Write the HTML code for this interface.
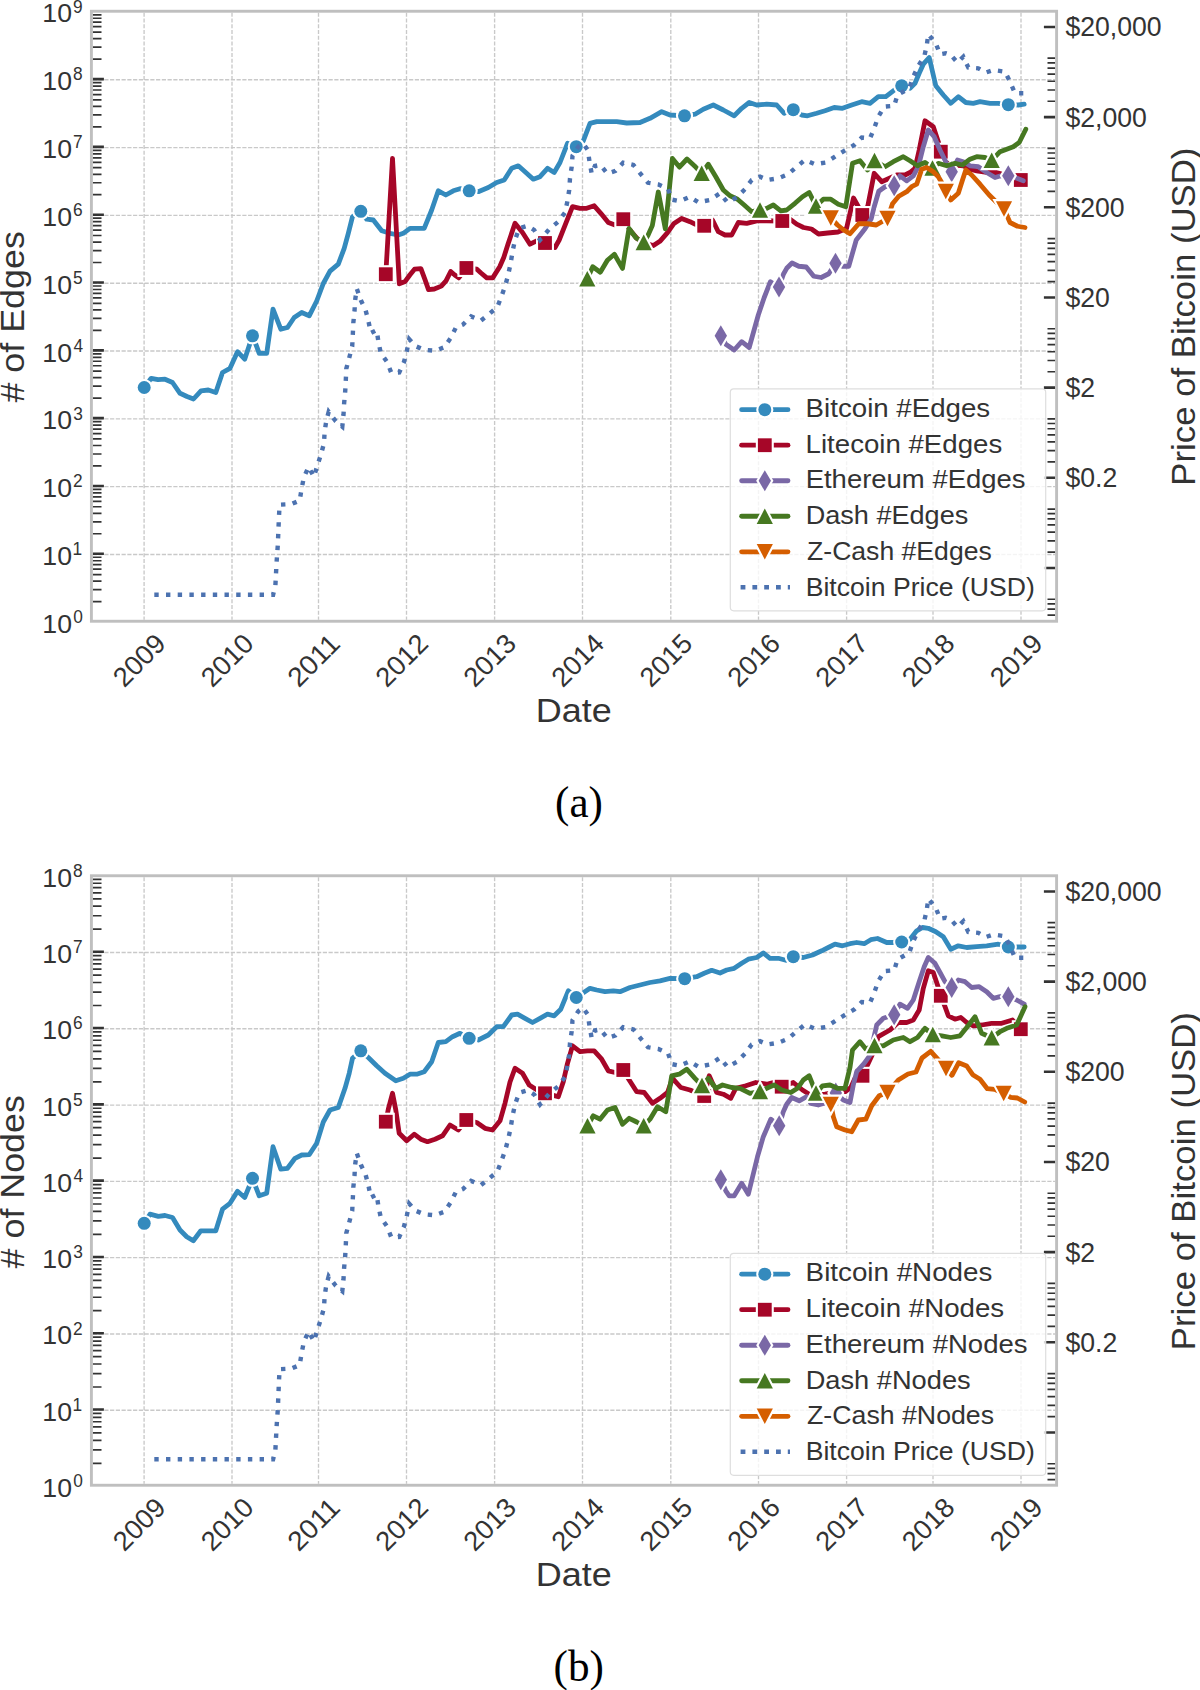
<!DOCTYPE html><html><head><meta charset="utf-8"><style>html,body{margin:0;padding:0;background:#fff;}svg{display:block;}text{font-family:"Liberation Sans",sans-serif;}text.serif{font-family:"Liberation Serif",serif;}</style></head><body>
<svg width="1200" height="1690" viewBox="0 0 1200 1690">
<rect width="1200" height="1690" fill="#fff"/>
<g>
<path d="M144.1 12.65V619.85M232 12.65V619.85M318.5 12.65V619.85M406.5 12.65V619.85M494.6 12.65V619.85M582.5 12.65V619.85M670.8 12.65V619.85M758.5 12.65V619.85M846.6 12.65V619.85M933 12.65V619.85M1021 12.65V619.85M92.8 554.46H1055.2M92.8 486.65H1055.2M92.8 418.84H1055.2M92.8 351.03H1055.2M92.8 283.22H1055.2M92.8 215.41H1055.2M92.8 147.6H1055.2M92.8 79.79H1055.2" stroke="#c9c9c9" stroke-width="1.35" stroke-dasharray="4.2 1.55" fill="none"/>
<path d="M92.8 601.56H101.5M92.8 589.62H101.5M92.8 581.14H101.5M92.8 574.57H101.5M92.8 569.2H101.5M92.8 564.66H101.5M92.8 560.73H101.5M92.8 557.26H101.5M92.8 533.75H101.5M92.8 521.81H101.5M92.8 513.33H101.5M92.8 506.76H101.5M92.8 501.39H101.5M92.8 496.85H101.5M92.8 492.92H101.5M92.8 489.45H101.5M92.8 465.94H101.5M92.8 454H101.5M92.8 445.52H101.5M92.8 438.95H101.5M92.8 433.58H101.5M92.8 429.04H101.5M92.8 425.11H101.5M92.8 421.64H101.5M92.8 398.13H101.5M92.8 386.19H101.5M92.8 377.71H101.5M92.8 371.14H101.5M92.8 365.77H101.5M92.8 361.23H101.5M92.8 357.3H101.5M92.8 353.83H101.5M92.8 330.32H101.5M92.8 318.38H101.5M92.8 309.9H101.5M92.8 303.33H101.5M92.8 297.96H101.5M92.8 293.42H101.5M92.8 289.49H101.5M92.8 286.02H101.5M92.8 262.51H101.5M92.8 250.57H101.5M92.8 242.09H101.5M92.8 235.52H101.5M92.8 230.15H101.5M92.8 225.61H101.5M92.8 221.68H101.5M92.8 218.21H101.5M92.8 194.7H101.5M92.8 182.76H101.5M92.8 174.28H101.5M92.8 167.71H101.5M92.8 162.34H101.5M92.8 157.8H101.5M92.8 153.87H101.5M92.8 150.4H101.5M92.8 126.89H101.5M92.8 114.95H101.5M92.8 106.47H101.5M92.8 99.9H101.5M92.8 94.53H101.5M92.8 89.99H101.5M92.8 86.06H101.5M92.8 82.59H101.5M92.8 59.08H101.5M92.8 47.14H101.5M92.8 38.66H101.5M92.8 32.09H101.5M92.8 26.72H101.5M92.8 22.18H101.5M92.8 18.25H101.5M92.8 14.78H101.5M1055.2 615.12H1047.5M1055.2 609.08H1047.5M1055.2 603.85H1047.5M1055.2 599.24H1047.5M1055.2 552.09H1047.5M1055.2 540.83H1047.5M1055.2 532.09H1047.5M1055.2 524.95H1047.5M1055.2 518.91H1047.5M1055.2 513.68H1047.5M1055.2 509.07H1047.5M1055.2 461.92H1047.5M1055.2 450.66H1047.5M1055.2 441.92H1047.5M1055.2 434.78H1047.5M1055.2 428.74H1047.5M1055.2 423.51H1047.5M1055.2 418.9H1047.5M1055.2 371.75H1047.5M1055.2 360.49H1047.5M1055.2 351.75H1047.5M1055.2 344.61H1047.5M1055.2 338.57H1047.5M1055.2 333.34H1047.5M1055.2 328.73H1047.5M1055.2 281.58H1047.5M1055.2 270.32H1047.5M1055.2 261.58H1047.5M1055.2 254.44H1047.5M1055.2 248.4H1047.5M1055.2 243.17H1047.5M1055.2 238.56H1047.5M1055.2 191.41H1047.5M1055.2 180.15H1047.5M1055.2 171.41H1047.5M1055.2 164.27H1047.5M1055.2 158.23H1047.5M1055.2 153H1047.5M1055.2 148.39H1047.5M1055.2 101.24H1047.5M1055.2 89.98H1047.5M1055.2 81.24H1047.5M1055.2 74.1H1047.5M1055.2 68.06H1047.5M1055.2 62.83H1047.5M1055.2 58.22H1047.5" stroke="#333" stroke-width="1.7" fill="none"/>
<path d="M92.8 553.76H103.9M92.8 485.95H103.9M92.8 418.14H103.9M92.8 350.33H103.9M92.8 282.52H103.9M92.8 214.71H103.9M92.8 146.9H103.9M92.8 79.09H103.9M1055.2 567.97H1043.9M1055.2 477.8H1043.9M1055.2 387.63H1043.9M1055.2 297.46H1043.9M1055.2 207.29H1043.9M1055.2 117.12H1043.9M1055.2 26.95H1043.9" stroke="#333" stroke-width="2.6" fill="none"/>
<svg x="91.4" y="11.25" width="965.2" height="610" viewBox="91.4 11.25 965.2 610" overflow="hidden">
<path d="M144.2 387.5 151.2 378.3 158 379.7 165 379.2 172.5 382.5 180 393.3 187 396.5 193.5 399 201 390.8 208.3 390 215.8 392.5 222.5 372.5 230 368.3 237.5 351.7 244.7 359.2 252.5 335.8 256.5 346 259.2 353.3 266.7 353.3 273 309.2 280.8 329.2 287.5 327.5 294.2 317.5 301.7 312.5 309.2 315.8 316.7 301 323.3 283.5 330 271.2 338.3 264.2 344.2 248.3 348.3 233.3 352.5 216.7 360.8 211.3 366.7 219.2 373.3 220 381.7 230.8 390 233.3 398.3 235 403.3 233.3 410 228.3 424.2 228.3 431.7 210 438.3 190.8 445.8 195 453.3 190.8 460 188.7 469.2 190.8 478.3 191.7 488.3 187.5 496.7 182.5 504.2 180 511.7 168.3 518.3 165.8 525 171.7 533.3 179.2 540 176.7 547.5 168.3 554.2 172.5 560 162.5 567.5 143.3 576.3 146.7 583.3 140.8 590 123.3 596.7 121.7 606.7 121.7 616.7 121.7 626.7 123 640 122.5 650 118.3 661.7 111.7 670 115 684.5 115.8 695 114.2 703.3 109.2 713.3 105 723.3 110 734.2 115.8 741.7 108.3 749.2 102.5 756.7 105 766.7 104.2 776.7 105 784.2 113.3 793.3 109.7 801.7 115 807.5 115.8 816.7 113.3 825 110.8 834.2 107.5 842.5 108.3 851.7 105 861.7 101.7 870 103.3 878.3 96.7 885.8 96.7 893.3 90.8 901.7 85.8 910 88.3 915 83.3 919.2 73.3 923.3 64.2 929.2 57.5 935.8 85.8 943.3 95 950.8 103.3 958.3 96.7 965.8 102.5 973.3 103.3 980 101.7 990 103.3 998.3 103.3 1008.3 104.7 1018.3 105 1024.2 104.2" stroke="#348ABD" stroke-width="4.8" stroke-linejoin="round" stroke-linecap="round" fill="none"/>
<circle cx="144.2" cy="387.5" r="6.5" fill="#348ABD" stroke="#fff" stroke-width="4.2" paint-order="stroke" stroke-linejoin="miter"/>
<circle cx="252.5" cy="335.8" r="6.5" fill="#348ABD" stroke="#fff" stroke-width="4.2" paint-order="stroke" stroke-linejoin="miter"/>
<circle cx="360.8" cy="211.3" r="6.5" fill="#348ABD" stroke="#fff" stroke-width="4.2" paint-order="stroke" stroke-linejoin="miter"/>
<circle cx="469.2" cy="190.8" r="6.5" fill="#348ABD" stroke="#fff" stroke-width="4.2" paint-order="stroke" stroke-linejoin="miter"/>
<circle cx="576.3" cy="146.7" r="6.5" fill="#348ABD" stroke="#fff" stroke-width="4.2" paint-order="stroke" stroke-linejoin="miter"/>
<circle cx="684.5" cy="115.8" r="6.5" fill="#348ABD" stroke="#fff" stroke-width="4.2" paint-order="stroke" stroke-linejoin="miter"/>
<circle cx="793.3" cy="109.7" r="6.5" fill="#348ABD" stroke="#fff" stroke-width="4.2" paint-order="stroke" stroke-linejoin="miter"/>
<circle cx="901.7" cy="85.8" r="6.5" fill="#348ABD" stroke="#fff" stroke-width="4.2" paint-order="stroke" stroke-linejoin="miter"/>
<circle cx="1008.3" cy="104.7" r="6.5" fill="#348ABD" stroke="#fff" stroke-width="4.2" paint-order="stroke" stroke-linejoin="miter"/>
<path d="M385.8 274.2 392.5 158.3 399.3 283.75 405.2 281.4 409.8 275 414.5 269.2 420.9 268.6 425 279.7 428.5 289.6 434.3 289 441.3 286.1 446 280.8 450.7 271.5 454.75 275 458.8 277.9 466.4 268 476.9 269.2 481 273 486.8 277.9 492.7 277.9 499.7 266.8 503.75 257.5 507.8 244.7 515 223.3 522.5 232.5 530 244.2 536.7 240.8 545 243 555 247.5 559.2 240 565.8 223.3 572.5 206.7 580 208.3 586.7 208.3 594.2 205.8 600.8 213.3 608.3 222.5 615 225 623.3 219.2 630.7 231 637.2 238.6 645 243.3 653.4 245.6 659.9 241.3 667.5 232.6 674 223.4 681.6 218.5 690 221.7 695 224.2 704.2 225.8 712.5 220 718.3 231.7 725 235 731.7 235 738.3 222.5 746.7 223.3 756.7 220.8 766.7 220.8 782.5 221 790 219.2 796.7 224.2 803.5 227.5 811.5 229 818.5 234 827.7 233 838 232 846.5 228.5 853.5 198 858.5 207 862.3 215.4 867.8 206 874.2 173.3 881.7 181.7 896.7 175 905 175 910 172.5 915 168.3 919.2 150 925 120.8 933.3 126.7 938.3 141.7 940.8 151.7 946.7 162.5 955 165 963.3 165.8 970 169.2 976.7 170.8 986.7 172.5 996.7 172.5 1005 175 1020.8 180" stroke="#A60628" stroke-width="4.8" stroke-linejoin="round" stroke-linecap="round" fill="none"/>
<rect x="378.9" y="267.3" width="13.8" height="13.8" fill="#A60628" stroke="#fff" stroke-width="4.2" paint-order="stroke" stroke-linejoin="miter"/>
<rect x="459.5" y="261.1" width="13.8" height="13.8" fill="#A60628" stroke="#fff" stroke-width="4.2" paint-order="stroke" stroke-linejoin="miter"/>
<rect x="538.1" y="236.1" width="13.8" height="13.8" fill="#A60628" stroke="#fff" stroke-width="4.2" paint-order="stroke" stroke-linejoin="miter"/>
<rect x="616.4" y="212.3" width="13.8" height="13.8" fill="#A60628" stroke="#fff" stroke-width="4.2" paint-order="stroke" stroke-linejoin="miter"/>
<rect x="697.3" y="218.9" width="13.8" height="13.8" fill="#A60628" stroke="#fff" stroke-width="4.2" paint-order="stroke" stroke-linejoin="miter"/>
<rect x="775.4" y="214.1" width="13.8" height="13.8" fill="#A60628" stroke="#fff" stroke-width="4.2" paint-order="stroke" stroke-linejoin="miter"/>
<rect x="855.4" y="208.1" width="13.8" height="13.8" fill="#A60628" stroke="#fff" stroke-width="4.2" paint-order="stroke" stroke-linejoin="miter"/>
<rect x="933.9" y="144.8" width="13.8" height="13.8" fill="#A60628" stroke="#fff" stroke-width="4.2" paint-order="stroke" stroke-linejoin="miter"/>
<rect x="1013.9" y="173.1" width="13.8" height="13.8" fill="#A60628" stroke="#fff" stroke-width="4.2" paint-order="stroke" stroke-linejoin="miter"/>
<path d="M720.8 335.8 725.8 344.2 734.2 350 741.7 341.7 749.2 347.5 758.3 315 764.2 297.5 770.4 281.7 779 287 783.5 274 786.7 268.3 792 263 798.75 266.25 806.25 267 813.75 276.25 821.25 277.5 828.75 273.75 835.5 263.25 842.5 266.25 848.75 266.25 856.25 240 865 228.75 871.25 218.75 874.2 206.7 878.75 191.25 885 186.7 894.2 185.8 900 175.8 906.7 180.8 913.3 175.8 918.3 166.7 923.3 146.7 928.3 130 934.2 136.7 940 150 945.8 161.7 951.7 171.7 957.5 160 963.3 161.7 970 165.8 978.3 166.7 986.7 172.5 995 177.5 1000 176 1008.3 175.8 1015 177.5 1023.3 180.8" stroke="#7A68A6" stroke-width="4.8" stroke-linejoin="round" stroke-linecap="round" fill="none"/>
<path d="M720.8 325.3L727 335.8L720.8 346.3L714.6 335.8Z" fill="#7A68A6" stroke="#fff" stroke-width="4.2" paint-order="stroke" stroke-linejoin="miter"/>
<path d="M779 276.5L785.2 287L779 297.5L772.8 287Z" fill="#7A68A6" stroke="#fff" stroke-width="4.2" paint-order="stroke" stroke-linejoin="miter"/>
<path d="M835.5 252.75L841.7 263.25L835.5 273.75L829.3 263.25Z" fill="#7A68A6" stroke="#fff" stroke-width="4.2" paint-order="stroke" stroke-linejoin="miter"/>
<path d="M894.2 175.3L900.4 185.8L894.2 196.3L888 185.8Z" fill="#7A68A6" stroke="#fff" stroke-width="4.2" paint-order="stroke" stroke-linejoin="miter"/>
<path d="M951.7 161.2L957.9 171.7L951.7 182.2L945.5 171.7Z" fill="#7A68A6" stroke="#fff" stroke-width="4.2" paint-order="stroke" stroke-linejoin="miter"/>
<path d="M1008.3 165.3L1014.5 175.8L1008.3 186.3L1002.1 175.8Z" fill="#7A68A6" stroke="#fff" stroke-width="4.2" paint-order="stroke" stroke-linejoin="miter"/>
<path d="M587.3 278.7 592.75 266.8 600.3 272.2 607.4 260.3 614.4 254.3 622.5 268.4 629 228.3 636.1 238 643.7 242.4 648 235.3 652.3 225.6 658.3 192 665.3 228.8 672.4 158.4 679.4 167.1 687 159 695.7 167.1 701.7 173.3 708.3 164.2 715.8 176.7 723.3 190 730 195.8 737.5 199.2 744.2 205 751.7 211.7 760 210 766.7 208.3 773.3 205 780.8 210.8 786.7 210 795 203.3 802.5 196.7 809.2 192.5 816 206 823.3 199.2 830.8 199.2 838.3 204.2 845.8 206.7 852.5 163.3 860 160.8 867.5 170 874.5 160.5 885 166.7 893.3 161.7 903.3 156.7 910 160.8 917.5 165.8 925 162.5 932.5 168 938.3 163.3 946.7 165.8 955 163.3 962.5 165 970 159.2 976.7 156.7 985 157.5 991.7 160.3 1000 151.7 1006.7 149.2 1013.3 146.7 1019.2 142.5 1025.8 129.2" stroke="#467821" stroke-width="4.8" stroke-linejoin="round" stroke-linecap="round" fill="none"/>
<path d="M587.3 270.9L595.4 286.5L579.2 286.5Z" fill="#467821" stroke="#fff" stroke-width="4.2" paint-order="stroke" stroke-linejoin="miter"/>
<path d="M643.7 234.6L651.8 250.2L635.6 250.2Z" fill="#467821" stroke="#fff" stroke-width="4.2" paint-order="stroke" stroke-linejoin="miter"/>
<path d="M701.7 165.5L709.8 181.1L693.6 181.1Z" fill="#467821" stroke="#fff" stroke-width="4.2" paint-order="stroke" stroke-linejoin="miter"/>
<path d="M760 202.2L768.1 217.8L751.9 217.8Z" fill="#467821" stroke="#fff" stroke-width="4.2" paint-order="stroke" stroke-linejoin="miter"/>
<path d="M816 198.2L824.1 213.8L807.9 213.8Z" fill="#467821" stroke="#fff" stroke-width="4.2" paint-order="stroke" stroke-linejoin="miter"/>
<path d="M874.5 152.7L882.6 168.3L866.4 168.3Z" fill="#467821" stroke="#fff" stroke-width="4.2" paint-order="stroke" stroke-linejoin="miter"/>
<path d="M932.5 160.2L940.6 175.8L924.4 175.8Z" fill="#467821" stroke="#fff" stroke-width="4.2" paint-order="stroke" stroke-linejoin="miter"/>
<path d="M991.7 152.5L999.8 168.1L983.6 168.1Z" fill="#467821" stroke="#fff" stroke-width="4.2" paint-order="stroke" stroke-linejoin="miter"/>
<path d="M830.8 218 837.5 225 843.75 230 850 233.75 858.75 223.75 867.5 223.75 876.25 225 887.5 218.5 892.5 203.75 898.75 196.25 906.7 191.7 911.7 186.7 916.7 184.2 921.7 169.2 926.7 167.5 933.3 171.7 938.3 176.7 941.7 182.5 945.8 191.5 950.8 200 958.3 193.3 962.5 180 965.8 170 971.7 175 980 184.2 989.2 195 997.5 203.3 1004 209 1010 222.5 1017.5 226.25 1025 227.5" stroke="#D55E00" stroke-width="4.8" stroke-linejoin="round" stroke-linecap="round" fill="none"/>
<path d="M830.8 225.8L838.9 210.2L822.7 210.2Z" fill="#D55E00" stroke="#fff" stroke-width="4.2" paint-order="stroke" stroke-linejoin="miter"/>
<path d="M887.5 226.3L895.6 210.7L879.4 210.7Z" fill="#D55E00" stroke="#fff" stroke-width="4.2" paint-order="stroke" stroke-linejoin="miter"/>
<path d="M945.8 199.3L953.9 183.7L937.7 183.7Z" fill="#D55E00" stroke="#fff" stroke-width="4.2" paint-order="stroke" stroke-linejoin="miter"/>
<path d="M1004 216.8L1012.1 201.2L995.9 201.2Z" fill="#D55E00" stroke="#fff" stroke-width="4.2" paint-order="stroke" stroke-linejoin="miter"/>
<path d="M154.3 594.7 273.1 594.7 275.4 585.2 276.6 562.1 277.8 545 279 516 279.6 504.7 291.4 504.1 299.7 500.6 301.5 489.3 303.8 477.5 308.6 466.9 313.9 476.9 317.5 465.1 321 454.4 324 443.2 324.6 432 326.3 420.7 328.7 411.8 335.8 421.3 342.3 426.6 343.5 414.8 344.1 403.6 345.2 391.3 345.8 380.3 346.3 368.6 349.3 357.5 352.2 346.4 352.8 334.75 353.3 323.1 354.5 311.4 355.1 300.3 356.8 288.7 360.9 300.3 365.6 310.25 368.5 321.3 370.8 333 376.7 330.1 378.4 341.75 380.75 352.8 387.2 362.2 391.25 372.7 399.3 372.4 404 361.9 406.9 350.8 409.25 339.2 415.7 346.2 423.8 349.7 434.9 350.8 444.25 347.3 450.7 338 455.9 327.5 462.9 324.6 471.1 316.4 481 320.5 489.75 313.5 497.3 307.1 501.4 296.6 505.5 284.9 508.4 273.8 510.75 262.75 512.5 251.7 515 240 519.2 228.3 527.5 225.8 534.2 230 540 240 549.2 229.2 558.3 221.7 565 212.5 567.5 200.8 569.2 190 570 178.3 571.7 166.7 572.5 155.8 578.3 146.7 583 143.3 587.9 150.3 589.5 161.7 591.7 173.6 594.9 166 600.3 164.9 607.4 173.6 615.5 170.9 623.1 162.75 633.4 164.9 640.4 173.6 648 182.8 658.3 184.4 668 188.75 671.8 199.6 680 201.2 689.7 196.9 698.4 202.3 710 200 720 193.3 727.5 202.5 736.7 197.5 745 189.2 751.7 180 760 176.7 767.5 180 778.3 178.3 788.3 174.2 796.7 166.7 805 160 815 164.2 825.8 162.5 835 156.7 844.2 150.8 854.2 145 861.7 137.5 870 138.3 874.2 128.3 878.3 116.7 884.2 106.7 894.2 105.8 897.5 95 909.2 88.3 913.3 76.7 918.3 65.8 924.2 56.7 926.7 45.8 928.3 34.2 935.8 43.3 940 54.2 945.8 53.3 950.8 55 957.5 62.5 963.3 56.7 968.3 67.5 978.3 68.3 985.8 72.5 993.3 70 1005 71.7 1010 81.7 1015 93.3 1023.3 93.3" stroke="#4C72B0" stroke-width="4.4" stroke-dasharray="4.4 7.3" fill="none"/>
</svg>
<rect x="91.4" y="11.25" width="965.2" height="610" fill="none" stroke="#bfbfbf" stroke-width="2.9"/>
<rect x="730.3" y="388.8" width="315.4" height="222" rx="3.5" fill="#fff" fill-opacity="0.8" stroke="#dedede" stroke-width="1.2"/>
<path d="M741.6 409.7H788" stroke="#348ABD" stroke-width="4.8" stroke-linecap="round" fill="none"/>
<circle cx="764.8" cy="409.7" r="6.5" fill="#348ABD" stroke="#fff" stroke-width="4.2" paint-order="stroke" stroke-linejoin="miter"/>
<text x="805.63" y="416.8" font-size="26.2" textLength="184.56" lengthAdjust="spacingAndGlyphs" fill="#333">Bitcoin #Edges</text>
<path d="M741.6 445.22H788" stroke="#A60628" stroke-width="4.8" stroke-linecap="round" fill="none"/>
<rect x="757.9" y="438.32" width="13.8" height="13.8" fill="#A60628" stroke="#fff" stroke-width="4.2" paint-order="stroke" stroke-linejoin="miter"/>
<text x="805.63" y="452.58" font-size="26.2" textLength="196.57" lengthAdjust="spacingAndGlyphs" fill="#333">Litecoin #Edges</text>
<path d="M741.6 480.74H788" stroke="#7A68A6" stroke-width="4.8" stroke-linecap="round" fill="none"/>
<path d="M764.8 470.24L771 480.74L764.8 491.24L758.6 480.74Z" fill="#7A68A6" stroke="#fff" stroke-width="4.2" paint-order="stroke" stroke-linejoin="miter"/>
<text x="805.65" y="488.36" font-size="26.2" textLength="219.94" lengthAdjust="spacingAndGlyphs" fill="#333">Ethereum #Edges</text>
<path d="M741.6 516.26H788" stroke="#467821" stroke-width="4.8" stroke-linecap="round" fill="none"/>
<path d="M764.8 508.46L772.9 524.06L756.7 524.06Z" fill="#467821" stroke="#fff" stroke-width="4.2" paint-order="stroke" stroke-linejoin="miter"/>
<text x="805.68" y="524.14" font-size="26.2" textLength="162.59" lengthAdjust="spacingAndGlyphs" fill="#333">Dash #Edges</text>
<path d="M741.6 551.78H788" stroke="#D55E00" stroke-width="4.8" stroke-linecap="round" fill="none"/>
<path d="M764.8 559.58L772.9 543.98L756.7 543.98Z" fill="#D55E00" stroke="#fff" stroke-width="4.2" paint-order="stroke" stroke-linejoin="miter"/>
<text x="807.05" y="559.92" font-size="26.2" textLength="184.7" lengthAdjust="spacingAndGlyphs" fill="#333">Z-Cash #Edges</text>
<path d="M740.6 587.3H790" stroke="#4C72B0" stroke-width="4.4" stroke-dasharray="4.8 7" fill="none"/>
<text x="805.72" y="595.7" font-size="26.2" textLength="229.03" lengthAdjust="spacingAndGlyphs" fill="#333">Bitcoin Price (USD)</text>
<text x="42.37" y="632.77" font-size="26.6" textLength="29.68" lengthAdjust="spacingAndGlyphs" fill="#333">10</text>
<text x="73.13" y="622.97" font-size="17.5" textLength="9.62" lengthAdjust="spacingAndGlyphs" fill="#333">0</text>
<text x="42.37" y="564.96" font-size="26.6" textLength="29.68" lengthAdjust="spacingAndGlyphs" fill="#333">10</text>
<text x="72.49" y="555.16" font-size="17.5" textLength="9.62" lengthAdjust="spacingAndGlyphs" fill="#333">1</text>
<text x="42.37" y="497.15" font-size="26.6" textLength="29.68" lengthAdjust="spacingAndGlyphs" fill="#333">10</text>
<text x="72.94" y="487.35" font-size="17.5" textLength="9.62" lengthAdjust="spacingAndGlyphs" fill="#333">2</text>
<text x="42.37" y="429.34" font-size="26.6" textLength="29.68" lengthAdjust="spacingAndGlyphs" fill="#333">10</text>
<text x="73.14" y="419.54" font-size="17.5" textLength="9.62" lengthAdjust="spacingAndGlyphs" fill="#333">3</text>
<text x="42.37" y="361.53" font-size="26.6" textLength="29.68" lengthAdjust="spacingAndGlyphs" fill="#333">10</text>
<text x="73.4" y="351.73" font-size="17.5" textLength="9.62" lengthAdjust="spacingAndGlyphs" fill="#333">4</text>
<text x="42.37" y="293.72" font-size="26.6" textLength="29.68" lengthAdjust="spacingAndGlyphs" fill="#333">10</text>
<text x="73.11" y="283.92" font-size="17.5" textLength="9.62" lengthAdjust="spacingAndGlyphs" fill="#333">5</text>
<text x="42.37" y="225.91" font-size="26.6" textLength="29.68" lengthAdjust="spacingAndGlyphs" fill="#333">10</text>
<text x="72.92" y="216.11" font-size="17.5" textLength="9.62" lengthAdjust="spacingAndGlyphs" fill="#333">6</text>
<text x="42.37" y="158.1" font-size="26.6" textLength="29.68" lengthAdjust="spacingAndGlyphs" fill="#333">10</text>
<text x="72.92" y="148.3" font-size="17.5" textLength="9.62" lengthAdjust="spacingAndGlyphs" fill="#333">7</text>
<text x="42.37" y="90.29" font-size="26.6" textLength="29.68" lengthAdjust="spacingAndGlyphs" fill="#333">10</text>
<text x="73.06" y="80.49" font-size="17.5" textLength="9.62" lengthAdjust="spacingAndGlyphs" fill="#333">8</text>
<text x="42.37" y="22.48" font-size="26.6" textLength="29.68" lengthAdjust="spacingAndGlyphs" fill="#333">10</text>
<text x="72.99" y="12.68" font-size="17.5" textLength="9.62" lengthAdjust="spacingAndGlyphs" fill="#333">9</text>
<text x="1065.41" y="36.45" font-size="26.9" textLength="96.26" lengthAdjust="spacingAndGlyphs" fill="#333">$20,000</text>
<text x="1065.41" y="126.62" font-size="26.9" textLength="81.45" lengthAdjust="spacingAndGlyphs" fill="#333">$2,000</text>
<text x="1065.41" y="216.79" font-size="26.9" textLength="59.24" lengthAdjust="spacingAndGlyphs" fill="#333">$200</text>
<text x="1065.41" y="306.96" font-size="26.9" textLength="44.43" lengthAdjust="spacingAndGlyphs" fill="#333">$20</text>
<text x="1065.41" y="397.13" font-size="26.9" textLength="29.62" lengthAdjust="spacingAndGlyphs" fill="#333">$2</text>
<text x="1065.41" y="487.3" font-size="26.9" textLength="51.83" lengthAdjust="spacingAndGlyphs" fill="#333">$0.2</text>
<text transform="translate(145.8 666.85) rotate(-45)" font-size="27.2" textLength="61" lengthAdjust="spacingAndGlyphs" text-anchor="middle" fill="#333">2009</text>
<text transform="translate(233.7 666.85) rotate(-45)" font-size="27.2" textLength="61" lengthAdjust="spacingAndGlyphs" text-anchor="middle" fill="#333">2010</text>
<text transform="translate(320.2 666.85) rotate(-45)" font-size="27.2" textLength="61" lengthAdjust="spacingAndGlyphs" text-anchor="middle" fill="#333">2011</text>
<text transform="translate(408.2 666.85) rotate(-45)" font-size="27.2" textLength="61" lengthAdjust="spacingAndGlyphs" text-anchor="middle" fill="#333">2012</text>
<text transform="translate(496.3 666.85) rotate(-45)" font-size="27.2" textLength="61" lengthAdjust="spacingAndGlyphs" text-anchor="middle" fill="#333">2013</text>
<text transform="translate(584.2 666.85) rotate(-45)" font-size="27.2" textLength="61" lengthAdjust="spacingAndGlyphs" text-anchor="middle" fill="#333">2014</text>
<text transform="translate(672.5 666.85) rotate(-45)" font-size="27.2" textLength="61" lengthAdjust="spacingAndGlyphs" text-anchor="middle" fill="#333">2015</text>
<text transform="translate(760.2 666.85) rotate(-45)" font-size="27.2" textLength="61" lengthAdjust="spacingAndGlyphs" text-anchor="middle" fill="#333">2016</text>
<text transform="translate(848.3 666.85) rotate(-45)" font-size="27.2" textLength="61" lengthAdjust="spacingAndGlyphs" text-anchor="middle" fill="#333">2017</text>
<text transform="translate(934.7 666.85) rotate(-45)" font-size="27.2" textLength="61" lengthAdjust="spacingAndGlyphs" text-anchor="middle" fill="#333">2018</text>
<text transform="translate(1022.7 666.85) rotate(-45)" font-size="27.2" textLength="61" lengthAdjust="spacingAndGlyphs" text-anchor="middle" fill="#333">2019</text>
<text x="535.85" y="722.05" font-size="32.5" textLength="76.05" lengthAdjust="spacingAndGlyphs" fill="#333">Date</text>
<text transform="translate(24.2 402.54) rotate(-90)" font-size="32.5" textLength="171.34" lengthAdjust="spacingAndGlyphs" fill="#333"># of Edges</text>
<text transform="translate(1194.8 485.65) rotate(-90)" font-size="32.5" textLength="338.1" lengthAdjust="spacingAndGlyphs" fill="#333">Price of Bitcoin (USD)</text>
<text x="555.11" y="816.75" font-size="43.3" textLength="47.78" lengthAdjust="spacingAndGlyphs" fill="#000" class="serif">(a)</text>
</g>
<g>
<path d="M144.1 877.15V1483.85M232 877.15V1483.85M318.5 877.15V1483.85M406.5 877.15V1483.85M494.6 877.15V1483.85M582.5 877.15V1483.85M670.8 877.15V1483.85M758.5 877.15V1483.85M846.6 877.15V1483.85M933 877.15V1483.85M1021 877.15V1483.85M92.8 1410.25H1055.2M92.8 1333.95H1055.2M92.8 1257.65H1055.2M92.8 1181.35H1055.2M92.8 1105.05H1055.2M92.8 1028.75H1055.2M92.8 952.45H1055.2" stroke="#c9c9c9" stroke-width="1.35" stroke-dasharray="4.2 1.55" fill="none"/>
<path d="M92.8 1463.28H101.5M92.8 1449.85H101.5M92.8 1440.31H101.5M92.8 1432.92H101.5M92.8 1426.88H101.5M92.8 1421.77H101.5M92.8 1417.34H101.5M92.8 1413.44H101.5M92.8 1386.98H101.5M92.8 1373.55H101.5M92.8 1364.01H101.5M92.8 1356.62H101.5M92.8 1350.58H101.5M92.8 1345.47H101.5M92.8 1341.04H101.5M92.8 1337.14H101.5M92.8 1310.68H101.5M92.8 1297.25H101.5M92.8 1287.71H101.5M92.8 1280.32H101.5M92.8 1274.28H101.5M92.8 1269.17H101.5M92.8 1264.74H101.5M92.8 1260.84H101.5M92.8 1234.38H101.5M92.8 1220.95H101.5M92.8 1211.41H101.5M92.8 1204.02H101.5M92.8 1197.98H101.5M92.8 1192.87H101.5M92.8 1188.44H101.5M92.8 1184.54H101.5M92.8 1158.08H101.5M92.8 1144.65H101.5M92.8 1135.11H101.5M92.8 1127.72H101.5M92.8 1121.68H101.5M92.8 1116.57H101.5M92.8 1112.14H101.5M92.8 1108.24H101.5M92.8 1081.78H101.5M92.8 1068.35H101.5M92.8 1058.81H101.5M92.8 1051.42H101.5M92.8 1045.38H101.5M92.8 1040.27H101.5M92.8 1035.84H101.5M92.8 1031.94H101.5M92.8 1005.48H101.5M92.8 992.05H101.5M92.8 982.51H101.5M92.8 975.12H101.5M92.8 969.08H101.5M92.8 963.97H101.5M92.8 959.54H101.5M92.8 955.64H101.5M92.8 929.18H101.5M92.8 915.75H101.5M92.8 906.21H101.5M92.8 898.82H101.5M92.8 892.78H101.5M92.8 887.67H101.5M92.8 883.24H101.5M92.8 879.34H101.5M1055.2 1479.62H1047.5M1055.2 1473.58H1047.5M1055.2 1468.35H1047.5M1055.2 1463.74H1047.5M1055.2 1416.59H1047.5M1055.2 1405.33H1047.5M1055.2 1396.59H1047.5M1055.2 1389.45H1047.5M1055.2 1383.41H1047.5M1055.2 1378.18H1047.5M1055.2 1373.57H1047.5M1055.2 1326.42H1047.5M1055.2 1315.16H1047.5M1055.2 1306.42H1047.5M1055.2 1299.28H1047.5M1055.2 1293.24H1047.5M1055.2 1288.01H1047.5M1055.2 1283.4H1047.5M1055.2 1236.25H1047.5M1055.2 1224.99H1047.5M1055.2 1216.25H1047.5M1055.2 1209.11H1047.5M1055.2 1203.07H1047.5M1055.2 1197.84H1047.5M1055.2 1193.23H1047.5M1055.2 1146.08H1047.5M1055.2 1134.82H1047.5M1055.2 1126.08H1047.5M1055.2 1118.94H1047.5M1055.2 1112.9H1047.5M1055.2 1107.67H1047.5M1055.2 1103.06H1047.5M1055.2 1055.91H1047.5M1055.2 1044.65H1047.5M1055.2 1035.91H1047.5M1055.2 1028.77H1047.5M1055.2 1022.73H1047.5M1055.2 1017.5H1047.5M1055.2 1012.89H1047.5M1055.2 965.74H1047.5M1055.2 954.48H1047.5M1055.2 945.74H1047.5M1055.2 938.6H1047.5M1055.2 932.56H1047.5M1055.2 927.33H1047.5M1055.2 922.72H1047.5" stroke="#333" stroke-width="1.7" fill="none"/>
<path d="M92.8 1409.55H103.9M92.8 1333.25H103.9M92.8 1256.95H103.9M92.8 1180.65H103.9M92.8 1104.35H103.9M92.8 1028.05H103.9M92.8 951.75H103.9M1055.2 1432.47H1043.9M1055.2 1342.3H1043.9M1055.2 1252.13H1043.9M1055.2 1161.96H1043.9M1055.2 1071.79H1043.9M1055.2 981.62H1043.9M1055.2 891.45H1043.9" stroke="#333" stroke-width="2.6" fill="none"/>
<svg x="91.4" y="875.75" width="965.2" height="609.5" viewBox="91.4 875.75 965.2 609.5" overflow="hidden">
<path d="M144.2 1223.3 150 1214.2 158.3 1216.3 165 1215.5 172.5 1217.5 180 1230 186.7 1236.7 193.3 1240.8 200.8 1230.8 208.3 1230.8 215.8 1230.8 222.5 1209.2 230 1203.3 237.5 1191.3 244.7 1197.5 252.5 1178.3 259.2 1195.8 266.7 1193.3 273 1146.7 280.8 1169.2 287.5 1168.3 295 1158.3 301.7 1155 309.2 1154.7 316.7 1143.3 323.3 1122 330 1110 338.3 1107.5 345 1088.3 349.2 1073.3 352.5 1058.3 360.8 1050.8 368.3 1057.5 376.7 1065.8 385 1073.3 395.8 1080.8 403.3 1078.3 410 1074.2 416.7 1074.2 424.2 1071.7 431.7 1061.7 438.3 1042.5 445.8 1041.7 452.5 1036.7 460 1033.3 469.2 1038.3 478.3 1040 488.3 1035 496.7 1026.7 503.3 1026.7 511.7 1015 517.5 1014.2 525 1018.3 532.5 1022.5 540 1018.3 547.5 1014.2 554.2 1015.8 560.8 1009.2 568.3 990.8 576.3 997.5 583 993 590 988.3 596.7 990 605 991.7 613.3 990.8 620 991.7 630 987.5 640 985 650 982.5 660 980.8 670 978.3 684.7 978.7 696.7 976.7 704.2 973.3 711.7 970.3 720 973 726.7 970 734.2 968.3 741.7 963.3 748.3 959.2 756.7 957.5 763.3 953 770 958.3 778.3 958.3 785.8 960.3 793.3 956.7 803.3 957.5 812.5 955 821.7 950.8 828.3 947.5 835 944.2 842.5 945.8 850 943.7 856.7 942.5 864.2 943.7 870.8 939.7 877.5 938.5 886.7 942.5 892.5 942.5 901.7 942 910 939.2 916.7 930.8 922.5 927.5 928.3 928.3 935.8 931.7 943.3 936.7 950.8 949.2 958.3 945.8 966.7 947.5 976.7 946.7 986.7 945.8 998.3 944.2 1008.3 947 1016.7 947 1024.2 947" stroke="#348ABD" stroke-width="4.8" stroke-linejoin="round" stroke-linecap="round" fill="none"/>
<circle cx="144.2" cy="1223.3" r="6.5" fill="#348ABD" stroke="#fff" stroke-width="4.2" paint-order="stroke" stroke-linejoin="miter"/>
<circle cx="252.5" cy="1178.3" r="6.5" fill="#348ABD" stroke="#fff" stroke-width="4.2" paint-order="stroke" stroke-linejoin="miter"/>
<circle cx="360.8" cy="1050.8" r="6.5" fill="#348ABD" stroke="#fff" stroke-width="4.2" paint-order="stroke" stroke-linejoin="miter"/>
<circle cx="469.2" cy="1038.3" r="6.5" fill="#348ABD" stroke="#fff" stroke-width="4.2" paint-order="stroke" stroke-linejoin="miter"/>
<circle cx="576.3" cy="997.5" r="6.5" fill="#348ABD" stroke="#fff" stroke-width="4.2" paint-order="stroke" stroke-linejoin="miter"/>
<circle cx="684.7" cy="978.7" r="6.5" fill="#348ABD" stroke="#fff" stroke-width="4.2" paint-order="stroke" stroke-linejoin="miter"/>
<circle cx="793.3" cy="956.7" r="6.5" fill="#348ABD" stroke="#fff" stroke-width="4.2" paint-order="stroke" stroke-linejoin="miter"/>
<circle cx="901.7" cy="942" r="6.5" fill="#348ABD" stroke="#fff" stroke-width="4.2" paint-order="stroke" stroke-linejoin="miter"/>
<circle cx="1008.3" cy="947" r="6.5" fill="#348ABD" stroke="#fff" stroke-width="4.2" paint-order="stroke" stroke-linejoin="miter"/>
<path d="M385.8 1121.7 388.3 1109.2 392.5 1093.3 395.8 1110 399.2 1133.3 406.7 1140.8 414.2 1134.2 420.8 1139.2 427.5 1141.7 435 1139.2 442.5 1135.8 450 1125 458.3 1130 466.3 1120 476.7 1122.5 485 1128.3 492.5 1130 500 1120.8 505 1103.3 510 1082 515 1068.3 522.5 1073.3 529.2 1085 535.8 1089.2 545 1093.3 558.3 1096.7 563.3 1081.7 567.5 1063.3 572.5 1045.8 580 1051.7 587.5 1050.8 594.2 1050.8 601.7 1059.2 608.3 1070.8 615 1072.5 623.3 1070 629.2 1080 636.7 1091.7 644.2 1092.5 652.5 1103.3 660 1098.3 667.5 1092.5 672.5 1078.3 680.8 1087.5 690 1090 704.2 1096 709.2 1075.8 716.7 1092.5 723.3 1094.2 730.8 1098.3 735.8 1088.3 745.8 1085.8 755.8 1082.5 766.7 1084.2 773.3 1082.5 781.7 1086.7 793.3 1082.5 802.5 1090 809.2 1094.2 816.7 1095 825 1094.2 840 1091.7 845 1091.7 850.8 1087.5 855 1078.3 862.5 1075.8 868.3 1063.3 872.5 1054.2 878.3 1036.7 890 1030 898.3 1022.5 906.7 1022.5 913.3 1020 919.2 1010 923.3 988.3 928.3 970.8 933.3 972.5 937.5 985 940.8 995.8 945 1006.7 948.3 1015.8 955 1019.2 960.8 1017.5 966.7 1022.5 973.3 1025.8 981.7 1025 991.7 1023.3 1001.7 1023.3 1012.5 1020 1020.8 1029.2" stroke="#A60628" stroke-width="4.8" stroke-linejoin="round" stroke-linecap="round" fill="none"/>
<rect x="378.9" y="1114.8" width="13.8" height="13.8" fill="#A60628" stroke="#fff" stroke-width="4.2" paint-order="stroke" stroke-linejoin="miter"/>
<rect x="459.4" y="1113.1" width="13.8" height="13.8" fill="#A60628" stroke="#fff" stroke-width="4.2" paint-order="stroke" stroke-linejoin="miter"/>
<rect x="538.1" y="1086.4" width="13.8" height="13.8" fill="#A60628" stroke="#fff" stroke-width="4.2" paint-order="stroke" stroke-linejoin="miter"/>
<rect x="616.4" y="1063.1" width="13.8" height="13.8" fill="#A60628" stroke="#fff" stroke-width="4.2" paint-order="stroke" stroke-linejoin="miter"/>
<rect x="697.3" y="1089.1" width="13.8" height="13.8" fill="#A60628" stroke="#fff" stroke-width="4.2" paint-order="stroke" stroke-linejoin="miter"/>
<rect x="774.8" y="1079.8" width="13.8" height="13.8" fill="#A60628" stroke="#fff" stroke-width="4.2" paint-order="stroke" stroke-linejoin="miter"/>
<rect x="855.6" y="1068.9" width="13.8" height="13.8" fill="#A60628" stroke="#fff" stroke-width="4.2" paint-order="stroke" stroke-linejoin="miter"/>
<rect x="933.9" y="988.9" width="13.8" height="13.8" fill="#A60628" stroke="#fff" stroke-width="4.2" paint-order="stroke" stroke-linejoin="miter"/>
<rect x="1013.9" y="1022.3" width="13.8" height="13.8" fill="#A60628" stroke="#fff" stroke-width="4.2" paint-order="stroke" stroke-linejoin="miter"/>
<path d="M720.8 1179.7 725.8 1190.8 729.2 1195.8 734.2 1195.8 741.7 1183.3 748.3 1194.2 757.5 1156.7 763.3 1136.7 770.8 1119.2 779.2 1125.8 783.3 1111.7 786.7 1104.2 791.7 1097.5 799.2 1100.8 806.7 1096.7 810.8 1103.3 818.3 1105 824.2 1103.3 835.8 1093 843.3 1100 850 1102.5 853.3 1085 856.7 1071.7 864.2 1063.3 870.8 1054.2 873.3 1040 876.7 1025 883.3 1018.3 894.2 1014.7 900 1004.2 907.5 1008.3 913.3 1000 919.2 981.7 924.2 966.7 928.3 957.5 935 963.3 940 972.5 945 981.7 951.7 987.5 958.3 980 965 981.7 971.7 987.5 979.2 986.7 986.7 991.7 993.3 998.3 1000 996.7 1008.3 996.7 1016.7 1000 1024.2 1004.2" stroke="#7A68A6" stroke-width="4.8" stroke-linejoin="round" stroke-linecap="round" fill="none"/>
<path d="M720.8 1169.2L727 1179.7L720.8 1190.2L714.6 1179.7Z" fill="#7A68A6" stroke="#fff" stroke-width="4.2" paint-order="stroke" stroke-linejoin="miter"/>
<path d="M779.2 1115.3L785.4 1125.8L779.2 1136.3L773 1125.8Z" fill="#7A68A6" stroke="#fff" stroke-width="4.2" paint-order="stroke" stroke-linejoin="miter"/>
<path d="M835.8 1082.5L842 1093L835.8 1103.5L829.6 1093Z" fill="#7A68A6" stroke="#fff" stroke-width="4.2" paint-order="stroke" stroke-linejoin="miter"/>
<path d="M894.2 1004.2L900.4 1014.7L894.2 1025.2L888 1014.7Z" fill="#7A68A6" stroke="#fff" stroke-width="4.2" paint-order="stroke" stroke-linejoin="miter"/>
<path d="M951.7 977L957.9 987.5L951.7 998L945.5 987.5Z" fill="#7A68A6" stroke="#fff" stroke-width="4.2" paint-order="stroke" stroke-linejoin="miter"/>
<path d="M1008.3 986.2L1014.5 996.7L1008.3 1007.2L1002.1 996.7Z" fill="#7A68A6" stroke="#fff" stroke-width="4.2" paint-order="stroke" stroke-linejoin="miter"/>
<path d="M587.5 1125.8 593.3 1115.8 600 1119.2 607.5 1110 615 1107.5 622.5 1124.2 629.2 1118.3 636.7 1122 643.7 1125.8 650 1119.2 657.5 1106.7 665.8 1111.7 671.7 1075.8 679.2 1074.2 686.7 1069.2 695 1078.3 702 1085.5 708.3 1078.3 715.8 1088.3 722.5 1085 731.7 1087.5 740 1088.3 750 1093.3 760 1091.5 768.3 1087.5 774.2 1085 781.7 1090 790.8 1092.5 797.5 1088.3 803.3 1080 809.2 1075.8 816 1093 822.5 1085.8 830 1085 837.5 1088.3 845 1088.3 850 1067.5 852.5 1050 860 1041.7 865.8 1049 874.5 1045.5 883.3 1045.8 893.3 1040 903.3 1037.5 910 1041.7 917.5 1037.5 925 1028.3 932.8 1034.5 941.7 1035.8 950.8 1037.5 960 1035.8 966.7 1027.5 975 1016.7 981.7 1033.3 991.7 1037.8 1000 1031.7 1006.7 1028.3 1016.7 1025 1025 1006.7" stroke="#467821" stroke-width="4.8" stroke-linejoin="round" stroke-linecap="round" fill="none"/>
<path d="M587.5 1118L595.6 1133.6L579.4 1133.6Z" fill="#467821" stroke="#fff" stroke-width="4.2" paint-order="stroke" stroke-linejoin="miter"/>
<path d="M643.7 1118L651.8 1133.6L635.6 1133.6Z" fill="#467821" stroke="#fff" stroke-width="4.2" paint-order="stroke" stroke-linejoin="miter"/>
<path d="M702 1077.7L710.1 1093.3L693.9 1093.3Z" fill="#467821" stroke="#fff" stroke-width="4.2" paint-order="stroke" stroke-linejoin="miter"/>
<path d="M760 1083.7L768.1 1099.3L751.9 1099.3Z" fill="#467821" stroke="#fff" stroke-width="4.2" paint-order="stroke" stroke-linejoin="miter"/>
<path d="M816 1085.2L824.1 1100.8L807.9 1100.8Z" fill="#467821" stroke="#fff" stroke-width="4.2" paint-order="stroke" stroke-linejoin="miter"/>
<path d="M874.5 1037.7L882.6 1053.3L866.4 1053.3Z" fill="#467821" stroke="#fff" stroke-width="4.2" paint-order="stroke" stroke-linejoin="miter"/>
<path d="M932.8 1026.7L940.9 1042.3L924.7 1042.3Z" fill="#467821" stroke="#fff" stroke-width="4.2" paint-order="stroke" stroke-linejoin="miter"/>
<path d="M991.7 1030L999.8 1045.6L983.6 1045.6Z" fill="#467821" stroke="#fff" stroke-width="4.2" paint-order="stroke" stroke-linejoin="miter"/>
<path d="M830.8 1104.5 833.3 1116.7 836.7 1126.7 845 1130 851.7 1131.7 858.3 1120 865.8 1119.2 871.7 1105.8 879.2 1095.8 887.5 1092.5 898.3 1080 908 1074 916 1072 922 1058 930.7 1051.3 937.3 1058.7 946 1068.5 952 1075.3 958.7 1062.7 966.7 1066 972.7 1074.7 980 1079.3 987.3 1088.7 994.7 1089.3 1003.7 1093.5 1010.7 1097.3 1017.3 1098 1024.7 1102" stroke="#D55E00" stroke-width="4.8" stroke-linejoin="round" stroke-linecap="round" fill="none"/>
<path d="M830.8 1112.3L838.9 1096.7L822.7 1096.7Z" fill="#D55E00" stroke="#fff" stroke-width="4.2" paint-order="stroke" stroke-linejoin="miter"/>
<path d="M887.5 1100.3L895.6 1084.7L879.4 1084.7Z" fill="#D55E00" stroke="#fff" stroke-width="4.2" paint-order="stroke" stroke-linejoin="miter"/>
<path d="M946 1076.3L954.1 1060.7L937.9 1060.7Z" fill="#D55E00" stroke="#fff" stroke-width="4.2" paint-order="stroke" stroke-linejoin="miter"/>
<path d="M1003.7 1101.3L1011.8 1085.7L995.6 1085.7Z" fill="#D55E00" stroke="#fff" stroke-width="4.2" paint-order="stroke" stroke-linejoin="miter"/>
<path d="M154.3 1459.2 273.1 1459.2 275.4 1449.7 276.6 1426.6 277.8 1409.5 279 1380.5 279.6 1369.2 291.4 1368.6 299.7 1365.1 301.5 1353.8 303.8 1342 308.6 1331.4 313.9 1341.4 317.5 1329.6 321 1318.9 324 1307.7 324.6 1296.5 326.3 1285.2 328.7 1276.3 335.8 1285.8 342.3 1291.1 343.5 1279.3 344.1 1268.1 345.2 1255.8 345.8 1244.8 346.3 1233.1 349.3 1222 352.2 1210.9 352.8 1199.25 353.3 1187.6 354.5 1175.9 355.1 1164.8 356.8 1153.2 360.9 1164.8 365.6 1174.75 368.5 1185.8 370.8 1197.5 376.7 1194.6 378.4 1206.25 380.75 1217.3 387.2 1226.7 391.25 1237.2 399.3 1236.9 404 1226.4 406.9 1215.3 409.25 1203.7 415.7 1210.7 423.8 1214.2 434.9 1215.3 444.25 1211.8 450.7 1202.5 455.9 1192 462.9 1189.1 471.1 1180.9 481 1185 489.75 1178 497.3 1171.6 501.4 1161.1 505.5 1149.4 508.4 1138.3 510.75 1127.25 512.5 1116.2 515 1104.5 519.2 1092.8 527.5 1090.3 534.2 1094.5 540 1104.5 549.2 1093.7 558.3 1086.2 565 1077 567.5 1065.3 569.2 1054.5 570 1042.8 571.7 1031.2 572.5 1020.3 578.3 1011.2 583 1007.8 587.9 1014.8 589.5 1026.2 591.7 1038.1 594.9 1030.5 600.3 1029.4 607.4 1038.1 615.5 1035.4 623.1 1027.25 633.4 1029.4 640.4 1038.1 648 1047.3 658.3 1048.9 668 1053.25 671.8 1064.1 680 1065.7 689.7 1061.4 698.4 1066.8 710 1064.5 720 1057.8 727.5 1067 736.7 1062 745 1053.7 751.7 1044.5 760 1041.2 767.5 1044.5 778.3 1042.8 788.3 1038.7 796.7 1031.2 805 1024.5 815 1028.7 825.8 1027 835 1021.2 844.2 1015.3 854.2 1009.5 861.7 1002 870 1002.8 874.2 992.8 878.3 981.2 884.2 971.2 894.2 970.3 897.5 959.5 909.2 952.8 913.3 941.2 918.3 930.3 924.2 921.2 926.7 910.3 928.3 898.7 935.8 907.8 940 918.7 945.8 917.8 950.8 919.5 957.5 927 963.3 921.2 968.3 932 978.3 932.8 985.8 937 993.3 934.5 1005 936.2 1010 946.2 1015 957.8 1023.3 957.8" stroke="#4C72B0" stroke-width="4.4" stroke-dasharray="4.4 7.3" fill="none"/>
</svg>
<rect x="91.4" y="875.75" width="965.2" height="609.5" fill="none" stroke="#bfbfbf" stroke-width="2.9"/>
<rect x="730.3" y="1253.3" width="315.4" height="222" rx="3.5" fill="#fff" fill-opacity="0.8" stroke="#dedede" stroke-width="1.2"/>
<path d="M741.6 1274.2H788" stroke="#348ABD" stroke-width="4.8" stroke-linecap="round" fill="none"/>
<circle cx="764.8" cy="1274.2" r="6.5" fill="#348ABD" stroke="#fff" stroke-width="4.2" paint-order="stroke" stroke-linejoin="miter"/>
<text x="805.62" y="1281.3" font-size="26.2" textLength="186.78" lengthAdjust="spacingAndGlyphs" fill="#333">Bitcoin #Nodes</text>
<path d="M741.6 1309.72H788" stroke="#A60628" stroke-width="4.8" stroke-linecap="round" fill="none"/>
<rect x="757.9" y="1302.82" width="13.8" height="13.8" fill="#A60628" stroke="#fff" stroke-width="4.2" paint-order="stroke" stroke-linejoin="miter"/>
<text x="805.63" y="1317.08" font-size="26.2" textLength="198.58" lengthAdjust="spacingAndGlyphs" fill="#333">Litecoin #Nodes</text>
<path d="M741.6 1345.24H788" stroke="#7A68A6" stroke-width="4.8" stroke-linecap="round" fill="none"/>
<path d="M764.8 1334.74L771 1345.24L764.8 1355.74L758.6 1345.24Z" fill="#7A68A6" stroke="#fff" stroke-width="4.2" paint-order="stroke" stroke-linejoin="miter"/>
<text x="805.64" y="1352.86" font-size="26.2" textLength="221.95" lengthAdjust="spacingAndGlyphs" fill="#333">Ethereum #Nodes</text>
<path d="M741.6 1380.76H788" stroke="#467821" stroke-width="4.8" stroke-linecap="round" fill="none"/>
<path d="M764.8 1372.96L772.9 1388.56L756.7 1388.56Z" fill="#467821" stroke="#fff" stroke-width="4.2" paint-order="stroke" stroke-linejoin="miter"/>
<text x="805.67" y="1388.64" font-size="26.2" textLength="165.02" lengthAdjust="spacingAndGlyphs" fill="#333">Dash #Nodes</text>
<path d="M741.6 1416.28H788" stroke="#D55E00" stroke-width="4.8" stroke-linecap="round" fill="none"/>
<path d="M764.8 1424.08L772.9 1408.48L756.7 1408.48Z" fill="#D55E00" stroke="#fff" stroke-width="4.2" paint-order="stroke" stroke-linejoin="miter"/>
<text x="807.05" y="1424.42" font-size="26.2" textLength="187.02" lengthAdjust="spacingAndGlyphs" fill="#333">Z-Cash #Nodes</text>
<path d="M740.6 1451.8H790" stroke="#4C72B0" stroke-width="4.4" stroke-dasharray="4.8 7" fill="none"/>
<text x="805.72" y="1460.2" font-size="26.2" textLength="229.03" lengthAdjust="spacingAndGlyphs" fill="#333">Bitcoin Price (USD)</text>
<text x="42.37" y="1497.05" font-size="26.6" textLength="29.68" lengthAdjust="spacingAndGlyphs" fill="#333">10</text>
<text x="73.13" y="1487.25" font-size="17.5" textLength="9.62" lengthAdjust="spacingAndGlyphs" fill="#333">0</text>
<text x="42.37" y="1420.75" font-size="26.6" textLength="29.68" lengthAdjust="spacingAndGlyphs" fill="#333">10</text>
<text x="72.49" y="1410.95" font-size="17.5" textLength="9.62" lengthAdjust="spacingAndGlyphs" fill="#333">1</text>
<text x="42.37" y="1344.45" font-size="26.6" textLength="29.68" lengthAdjust="spacingAndGlyphs" fill="#333">10</text>
<text x="72.94" y="1334.65" font-size="17.5" textLength="9.62" lengthAdjust="spacingAndGlyphs" fill="#333">2</text>
<text x="42.37" y="1268.15" font-size="26.6" textLength="29.68" lengthAdjust="spacingAndGlyphs" fill="#333">10</text>
<text x="73.14" y="1258.35" font-size="17.5" textLength="9.62" lengthAdjust="spacingAndGlyphs" fill="#333">3</text>
<text x="42.37" y="1191.85" font-size="26.6" textLength="29.68" lengthAdjust="spacingAndGlyphs" fill="#333">10</text>
<text x="73.4" y="1182.05" font-size="17.5" textLength="9.62" lengthAdjust="spacingAndGlyphs" fill="#333">4</text>
<text x="42.37" y="1115.55" font-size="26.6" textLength="29.68" lengthAdjust="spacingAndGlyphs" fill="#333">10</text>
<text x="73.11" y="1105.75" font-size="17.5" textLength="9.62" lengthAdjust="spacingAndGlyphs" fill="#333">5</text>
<text x="42.37" y="1039.25" font-size="26.6" textLength="29.68" lengthAdjust="spacingAndGlyphs" fill="#333">10</text>
<text x="72.92" y="1029.45" font-size="17.5" textLength="9.62" lengthAdjust="spacingAndGlyphs" fill="#333">6</text>
<text x="42.37" y="962.95" font-size="26.6" textLength="29.68" lengthAdjust="spacingAndGlyphs" fill="#333">10</text>
<text x="72.92" y="953.15" font-size="17.5" textLength="9.62" lengthAdjust="spacingAndGlyphs" fill="#333">7</text>
<text x="42.37" y="886.65" font-size="26.6" textLength="29.68" lengthAdjust="spacingAndGlyphs" fill="#333">10</text>
<text x="73.06" y="876.85" font-size="17.5" textLength="9.62" lengthAdjust="spacingAndGlyphs" fill="#333">8</text>
<text x="1065.41" y="900.95" font-size="26.9" textLength="96.26" lengthAdjust="spacingAndGlyphs" fill="#333">$20,000</text>
<text x="1065.41" y="991.12" font-size="26.9" textLength="81.45" lengthAdjust="spacingAndGlyphs" fill="#333">$2,000</text>
<text x="1065.41" y="1081.29" font-size="26.9" textLength="59.24" lengthAdjust="spacingAndGlyphs" fill="#333">$200</text>
<text x="1065.41" y="1171.46" font-size="26.9" textLength="44.43" lengthAdjust="spacingAndGlyphs" fill="#333">$20</text>
<text x="1065.41" y="1261.63" font-size="26.9" textLength="29.62" lengthAdjust="spacingAndGlyphs" fill="#333">$2</text>
<text x="1065.41" y="1351.8" font-size="26.9" textLength="51.83" lengthAdjust="spacingAndGlyphs" fill="#333">$0.2</text>
<text transform="translate(145.8 1530.85) rotate(-45)" font-size="27.2" textLength="61" lengthAdjust="spacingAndGlyphs" text-anchor="middle" fill="#333">2009</text>
<text transform="translate(233.7 1530.85) rotate(-45)" font-size="27.2" textLength="61" lengthAdjust="spacingAndGlyphs" text-anchor="middle" fill="#333">2010</text>
<text transform="translate(320.2 1530.85) rotate(-45)" font-size="27.2" textLength="61" lengthAdjust="spacingAndGlyphs" text-anchor="middle" fill="#333">2011</text>
<text transform="translate(408.2 1530.85) rotate(-45)" font-size="27.2" textLength="61" lengthAdjust="spacingAndGlyphs" text-anchor="middle" fill="#333">2012</text>
<text transform="translate(496.3 1530.85) rotate(-45)" font-size="27.2" textLength="61" lengthAdjust="spacingAndGlyphs" text-anchor="middle" fill="#333">2013</text>
<text transform="translate(584.2 1530.85) rotate(-45)" font-size="27.2" textLength="61" lengthAdjust="spacingAndGlyphs" text-anchor="middle" fill="#333">2014</text>
<text transform="translate(672.5 1530.85) rotate(-45)" font-size="27.2" textLength="61" lengthAdjust="spacingAndGlyphs" text-anchor="middle" fill="#333">2015</text>
<text transform="translate(760.2 1530.85) rotate(-45)" font-size="27.2" textLength="61" lengthAdjust="spacingAndGlyphs" text-anchor="middle" fill="#333">2016</text>
<text transform="translate(848.3 1530.85) rotate(-45)" font-size="27.2" textLength="61" lengthAdjust="spacingAndGlyphs" text-anchor="middle" fill="#333">2017</text>
<text transform="translate(934.7 1530.85) rotate(-45)" font-size="27.2" textLength="61" lengthAdjust="spacingAndGlyphs" text-anchor="middle" fill="#333">2018</text>
<text transform="translate(1022.7 1530.85) rotate(-45)" font-size="27.2" textLength="61" lengthAdjust="spacingAndGlyphs" text-anchor="middle" fill="#333">2019</text>
<text x="535.85" y="1586.05" font-size="32.5" textLength="76.05" lengthAdjust="spacingAndGlyphs" fill="#333">Date</text>
<text transform="translate(24.2 1268.44) rotate(-90)" font-size="32.5" textLength="173.35" lengthAdjust="spacingAndGlyphs" fill="#333"># of Nodes</text>
<text transform="translate(1194.8 1350.15) rotate(-90)" font-size="32.5" textLength="338.1" lengthAdjust="spacingAndGlyphs" fill="#333">Price of Bitcoin (USD)</text>
<text x="553.6" y="1680.8" font-size="43.3" textLength="50.3" lengthAdjust="spacingAndGlyphs" fill="#000" class="serif">(b)</text>
</g>
</svg></body></html>
